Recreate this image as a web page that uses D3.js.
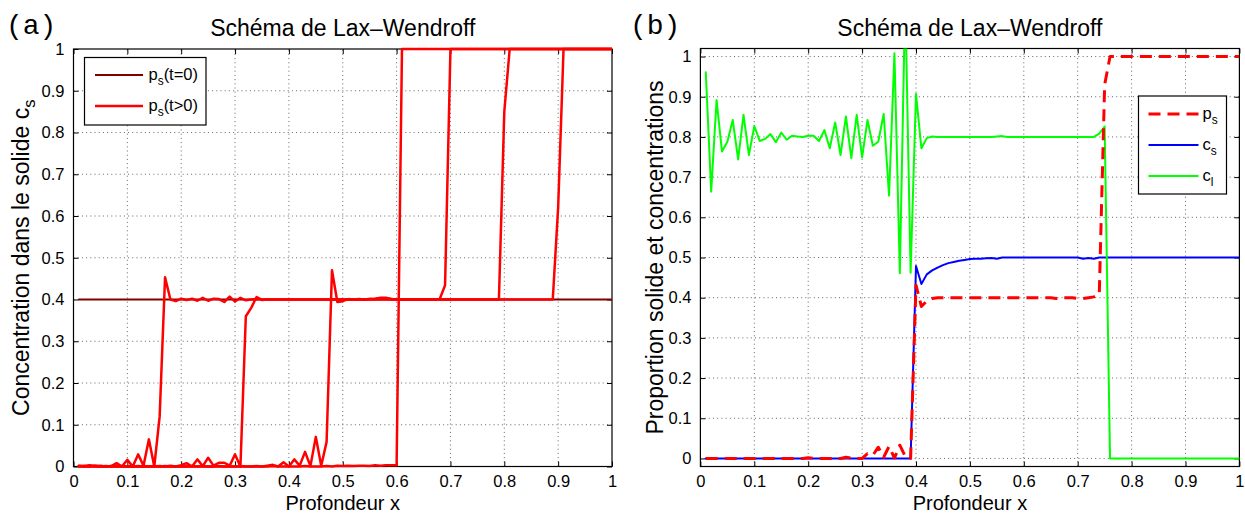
<!DOCTYPE html>
<html><head><meta charset="utf-8">
<script src="https://cdn.jsdelivr.net/npm/d3@7"></script>
<style>
body{margin:0;background:#fff}
svg{display:block}
text{font-family:"Liberation Sans",Arial,Helvetica,sans-serif;fill:#000}
</style>
</head><body>
<svg id="chart" width="1245" height="513"></svg>
<script>
// ---------- data ----------
const xGrid = [
 0.01,0.02,0.03,0.04,0.05,0.06,0.07,0.08,0.09,0.10,
 0.11,0.12,0.13,0.14,0.15,0.16,0.17,0.18,0.19,0.20,
 0.21,0.22,0.23,0.24,0.25,0.26,0.27,0.28,0.29,0.30,
 0.31,0.32,0.33,0.34,0.35,0.36,0.37,0.38,0.39,0.40,
 0.41,0.42,0.43,0.44,0.45,0.46,0.47,0.48,0.49,0.50,
 0.51,0.52,0.53,0.54,0.55,0.56,0.57,0.58,0.59,0.60,
 0.61,0.62,0.63,0.64,0.65,0.66,0.67,0.68,0.69,0.70,
 0.71,0.72,0.73,0.74,0.75,0.76,0.77,0.78,0.79,0.80,
 0.81,0.82,0.83,0.84,0.85,0.86,0.87,0.88,0.89,0.90,
 0.91,0.92,0.93,0.94,0.95,0.96,0.97,0.98,0.99,1.00];

const xTicks = [0,0.1,0.2,0.3,0.4,0.5,0.6,0.7,0.8,0.9,1];
const yTicks = [0,0.1,0.2,0.3,0.4,0.5,0.6,0.7,0.8,0.9,1];
const tickLabels = ["0","0.1","0.2","0.3","0.4","0.5","0.6","0.7","0.8","0.9","1"];

// panel (a): p_s(t=0)
const psInit = [
 0.4,0.4,0.4,0.4,0.4,0.4,0.4,0.4,0.4,0.4,
 0.4,0.4,0.4,0.4,0.4,0.4,0.4,0.4,0.4,0.4,
 0.4,0.4,0.4,0.4,0.4,0.4,0.4,0.4,0.4,0.4,
 0.4,0.4,0.4,0.4,0.4,0.4,0.4,0.4,0.4,0.4,
 0.4,0.4,0.4,0.4,0.4,0.4,0.4,0.4,0.4,0.4,
 0.4,0.4,0.4,0.4,0.4,0.4,0.4,0.4,0.4,0.4,
 0.4,0.4,0.4,0.4,0.4,0.4,0.4,0.4,0.4,0.4,
 0.4,0.4,0.4,0.4,0.4,0.4,0.4,0.4,0.4,0.4,
 0.4,0.4,0.4,0.4,0.4,0.4,0.4,0.4,0.4,0.4,
 0.4,0.4,0.4,0.4,0.4,0.4,0.4,0.4,0.4,0.4];

// panel (a): p_s(t>0), four snapshots
const psT1 = [
 0.002,0.001,0.003,0.001,0.002,0.000,0.001,0.008,0.000,0.016,
 0.000,0.029,0.002,0.065,0.000,0.120,0.453,0.400,0.396,0.402,
 0.399,0.402,0.397,0.404,0.397,0.402,0.401,0.394,0.407,0.395,
 0.404,0.398,0.400,0.401,0.400,0.400,0.400,0.400,0.400,0.400,
 0.400,0.400,0.400,0.400,0.400,0.400,0.400,0.400,0.400,0.400,
 0.400,0.400,0.400,0.400,0.401,0.401,0.402,0.402,0.401,0.400,
 0.400,0.400,0.400,0.400,0.400,0.400,0.400,0.401,0.434,1.000,
 1,1,1,1,1,1,1,1,1,1,
 1,1,1,1,1,1,1,1,1,1,
 1,1,1,1,1,1,1,1,1,1];
const psT2 = [
 0.000,0.001,0.000,0.002,0.000,0.001,0.000,0.000,0.001,0.000,
 0.000,0.001,0.000,0.000,0.001,0.000,0.000,0.002,0.000,0.003,
 0.008,0.000,0.017,0.001,0.021,0.002,0.009,0.009,0.002,0.029,
 0.000,0.360,0.380,0.406,0.399,0.400,0.400,0.400,0.400,0.400,
 0.400,0.400,0.400,0.400,0.400,0.400,0.400,0.400,0.400,0.400,
 0.400,0.400,0.400,0.400,0.400,0.400,0.400,0.400,0.400,0.400,
 0.400,0.400,0.400,0.400,0.400,0.400,0.400,0.400,0.400,0.400,
 0.400,0.400,0.400,0.400,0.400,0.400,0.400,0.400,0.400,0.850,
 1,1,1,1,1,1,1,1,1,1,
 1,1,1,1,1,1,1,1,1,1];
const psT3 = [
 0.001,0.000,0.000,0.001,0.000,0.000,0.001,0.000,0.000,0.000,
 0.000,0.000,0.001,0.000,0.000,0.000,0.001,0.000,0.000,0.000,
 0.000,0.001,0.000,0.000,0.000,0.000,0.001,0.000,0.000,0.000,
 0.001,0.000,0.000,0.001,0.000,0.002,0.004,0.000,0.010,0.000,
 0.017,0.002,0.035,0.001,0.071,0.002,0.059,0.470,0.394,0.396,
 0.401,0.400,0.401,0.400,0.401,0.402,0.404,0.404,0.401,0.400,
 0.400,0.400,0.400,0.400,0.400,0.400,0.400,0.400,0.400,0.400,
 0.400,0.400,0.400,0.400,0.400,0.400,0.400,0.400,0.400,0.400,
 0.400,0.400,0.400,0.400,0.400,0.400,0.400,0.400,0.400,0.620,
 1,1,1,1,1,1,1,1,1,1];
const psT4 = [
 0.000,0.000,0.001,0.000,0.000,0.000,0.000,0.001,0.000,0.000,
 0.000,0.000,0.000,0.000,0.000,0.001,0.000,0.000,0.000,0.000,
 0.000,0.000,0.000,0.001,0.000,0.000,0.000,0.000,0.000,0.000,
 0.000,0.000,0.000,0.000,0.000,0.000,0.001,0.000,0.000,0.000,
 0.000,0.000,0.001,0.000,0.000,0.000,0.001,0.000,0.002,0.001,
 0.002,0.001,0.002,0.002,0.001,0.003,0.002,0.003,0.003,0.003,
 1,1,1,1,1,1,1,1,1,1,
 1,1,1,1,1,1,1,1,1,1,
 1,1,1,1,1,1,1,1,1,1,
 1,1,1,1,1,1,1,1,1,1];

// panel (b)
const psB = [
 0,0,0,0,0,0,0,0,0,0,
 0,0,0,0,0,0,0,0,0,0.002,
 0.000,0.000,0.000,0.000,0.000,0.000,0.003,0.001,0.000,0.000,
 0.012,0.008,0.028,0.003,0.030,0.001,0.033,0.005,0.000,0.431,
 0.378,0.392,0.398,0.400,0.400,0.400,0.400,0.400,0.400,0.400,
 0.400,0.400,0.400,0.400,0.400,0.400,0.400,0.400,0.400,0.400,
 0.400,0.400,0.400,0.400,0.400,0.398,0.400,0.400,0.400,0.398,
 0.398,0.400,0.402,0.408,0.930,1.000,1.000,1.000,1.000,1.000,
 1,1,1,1,1,1,1,1,1,1,
 1,1,1,1,1,1,1,1,1,1];
const csB = [
 0,0,0,0,0,0,0,0,0,0,
 0,0,0,0,0,0,0,0,0,0,
 0,0,0,0,0,0,0,0,0,0,
 0,0,0,0,0,0,0,0,0,0.479,
 0.434,0.458,0.468,0.475,0.481,0.486,0.489,0.492,0.494,0.496,
 0.497,0.497,0.498,0.499,0.497,0.500,0.500,0.500,0.500,0.500,
 0.500,0.500,0.500,0.500,0.500,0.500,0.500,0.500,0.500,0.500,
 0.497,0.499,0.497,0.500,0.500,0.500,0.500,0.500,0.500,0.500,
 0.500,0.500,0.500,0.500,0.500,0.500,0.500,0.500,0.500,0.500,
 0.500,0.500,0.500,0.500,0.500,0.500,0.500,0.500,0.500,0.500];
const clB = [
 0.961,0.664,0.892,0.764,0.788,0.842,0.744,0.855,0.755,0.827,
 0.790,0.795,0.807,0.787,0.811,0.793,0.803,0.801,0.800,0.803,
 0.803,0.790,0.817,0.772,0.836,0.755,0.851,0.747,0.855,0.749,
 0.842,0.778,0.788,0.857,0.654,1.008,0.461,1.150,0.462,0.907,
 0.772,0.797,0.801,0.800,0.800,0.800,0.800,0.800,0.800,0.800,
 0.800,0.800,0.800,0.800,0.801,0.802,0.800,0.800,0.800,0.800,
 0.800,0.800,0.800,0.800,0.800,0.800,0.800,0.800,0.800,0.800,
 0.800,0.800,0.800,0.808,0.826,0.000,0.000,0.000,0.000,0.000,
 0,0,0,0,0,0,0,0,0,0,
 0,0,0,0,0,0,0,0,0,0];

// ---------- drawing ----------
const svg = d3.select("#chart");
const FONT = '"Liberation Sans",Arial,Helvetica,sans-serif';

function rich(sel, parts, size) {
  let shifted = false;
  parts.forEach(([t, sub]) => {
    const ts = sel.append("tspan").text(t);
    if (sub && !shifted) { ts.attr("dy", size * 0.28).attr("font-size", size * 0.72); shifted = true; }
    else if (!sub && shifted) { ts.attr("dy", -size * 0.28); shifted = false; }
  });
}

function panel(opt) {
  const g = svg.append("g");
  const x = opt.x, y = opt.y;
  const [xl, xr] = x.range();
  const yb = y.range()[0], yt = y.range()[1];

  // grid
  const grid = g.append("g").attr("stroke", "#555").attr("stroke-width", 0.9)
    .attr("stroke-dasharray", "1,3.2");
  grid.selectAll(".gx").data(xTicks.filter(d => x(d) > xl + 1 && x(d) < xr - 1)).join("line")
    .attr("x1", d => x(d)).attr("x2", d => x(d)).attr("y1", yb).attr("y2", yt);
  grid.selectAll(".gy").data(yTicks.filter(d => y(d) < yb - 1 && y(d) > yt + 1)).join("line")
    .attr("y1", d => y(d)).attr("y2", d => y(d)).attr("x1", xl).attr("x2", xr);

  const fmt = d => tickLabels[xTicks.indexOf(d)];
  const styleAxis = a => {
    a.attr("font-family", null).attr("font-size", null);
    a.selectAll("text").style("font-size", "16.5px").style("font-family", FONT).attr("fill", "#000");
    a.selectAll("line").attr("stroke", "#000");
    a.select(".domain").remove();
  };
  g.append("g").attr("transform", `translate(0,${yb})`)
    .call(d3.axisBottom(x).tickValues(xTicks).tickFormat(fmt).tickSizeInner(-5).tickSizeOuter(0).tickPadding(9))
    .call(styleAxis);
  g.append("g").attr("transform", `translate(0,${yt})`)
    .call(d3.axisTop(x).tickValues(xTicks).tickFormat("").tickSizeInner(-5).tickSizeOuter(0))
    .call(styleAxis);
  g.append("g").attr("transform", `translate(${xl},0)`)
    .call(d3.axisLeft(y).tickValues(yTicks).tickFormat(d => tickLabels[yTicks.indexOf(d)]).tickSizeInner(-5).tickSizeOuter(0).tickPadding(9))
    .call(styleAxis);
  g.append("g").attr("transform", `translate(${xr},0)`)
    .call(d3.axisRight(y).tickValues(yTicks).tickFormat("").tickSizeInner(-5).tickSizeOuter(0))
    .call(styleAxis);
  g.append("rect").attr("x", xl).attr("y", yt).attr("width", xr - xl).attr("height", yb - yt)
    .attr("fill", "none").attr("stroke", "#000").attr("stroke-width", 1.2);

  // clip
  const cid = "clip" + opt.id;
  svg.append("clipPath").attr("id", cid).append("rect")
    .attr("x", xl).attr("y", yt - (opt.clipPad || 0)).attr("width", xr - xl).attr("height", yb - yt + 2 * (opt.clipPad || 0));
  const lg = g.append("g").attr("clip-path", `url(#${cid})`);
  const line = d3.line().x((d, i) => x(xGrid[i])).y(d => y(d));
  opt.series.forEach(s => {
    lg.append("path").datum(s.values).attr("d", line)
      .attr("fill", "none").attr("stroke", s.color).attr("stroke-width", s.width)
      .attr("stroke-dasharray", s.dash || null)
      .attr("stroke-linejoin", "round").attr("stroke-linecap", s.dash ? "butt" : "round");
  });

  // title
  g.append("text").attr("x", (xl + xr) / 2).attr("y", 36).attr("text-anchor", "middle")
    .style("font-size", "23px").text("Schéma de Lax\u2013Wendroff");
  // panel letter
  g.append("text").attr("x", opt.letterX).attr("y", 34)
    .style("font-family", '"Liberation Mono","DejaVu Sans Mono",monospace').style("font-size", "28px")
    .text(opt.letter);
  // x label
  g.append("text").attr("x", (xl + xr) / 2).attr("y", 510).attr("text-anchor", "middle")
    .style("font-size", "20px").text("Profondeur x");
  // y label
  const yl = g.append("text").attr("transform", `translate(${opt.ylabX},${(yb + yt) / 2}) rotate(-90)`)
    .attr("text-anchor", "middle").style("font-size", "23px");
  rich(yl, opt.ylabel, 23);

  // legend
  const L = opt.legend;
  const leg = g.append("g");
  leg.append("rect").attr("x", L.x).attr("y", L.y).attr("width", L.w).attr("height", L.h)
    .attr("fill", "#fff").attr("stroke", "#000").attr("stroke-width", 1.2);
  L.items.forEach((it, k) => {
    const cy = L.y + L.first + k * L.step;
    leg.append("line").attr("x1", L.x + L.l0).attr("x2", L.x + L.l1).attr("y1", cy).attr("y2", cy)
      .attr("stroke", it.color).attr("stroke-width", it.width).attr("stroke-dasharray", it.dash || null);
    const t = leg.append("text").attr("x", L.x + L.tx).attr("y", cy + 5).style("font-size", "16.5px");
    rich(t, it.label, 16.5);
  });
}

panel({
  id: "a", letter: "(a)", letterX: 6,
  x: d3.scaleLinear().domain([0, 1]).range([73.5, 612]),
  y: d3.scaleLinear().domain([0, 1]).range([466.5, 49]),
  clipPad: 3, ylabX: 29,
  ylabel: [["Concentration dans le solide c", false], ["s", true]],
  series: [
    { values: psInit, color: "#7f0000", width: 2 },
    { values: psT1, color: "#ff0000", width: 2.5 },
    { values: psT2, color: "#ff0000", width: 2.5 },
    { values: psT3, color: "#ff0000", width: 2.5 },
    { values: psT4, color: "#ff0000", width: 2.5 }
  ],
  legend: { x: 84.5, y: 57.5, w: 121.5, h: 67.5, first: 17.5, step: 31, l0: 10.5, l1: 58.5, tx: 64,
    items: [
      { color: "#7f0000", width: 2, label: [["p", false], ["s", true], ["(t=0)", false]] },
      { color: "#ff0000", width: 2.5, label: [["p", false], ["s", true], ["(t>0)", false]] }
    ] }
});

panel({
  id: "b", letter: "(b)", letterX: 630,
  x: d3.scaleLinear().domain([0, 1]).range([700.4, 1239.4]),
  y: d3.scaleLinear().domain([-0.02, 1.02]).range([466.5, 48.5]),
  clipPad: 0, ylabX: 663,
  ylabel: [["Proportion solide et concentrations", false]],
  series: [
    { values: csB, color: "#0000ff", width: 2 },
    { values: clB, color: "#00ff00", width: 2 },
    { values: psB, color: "#ff0000", width: 3, dash: "12,7" }
  ],
  legend: { x: 1138.5, y: 96, w: 88, h: 98, first: 18, step: 31, l0: 10, l1: 60, tx: 64,
    items: [
      { color: "#ff0000", width: 3, dash: "12,7", label: [["p", false], ["s", true]] },
      { color: "#0000ff", width: 2, label: [["c", false], ["s", true]] },
      { color: "#00ff00", width: 2, label: [["c", false], ["l", true]] }
    ] }
});
</script>
</body></html>
